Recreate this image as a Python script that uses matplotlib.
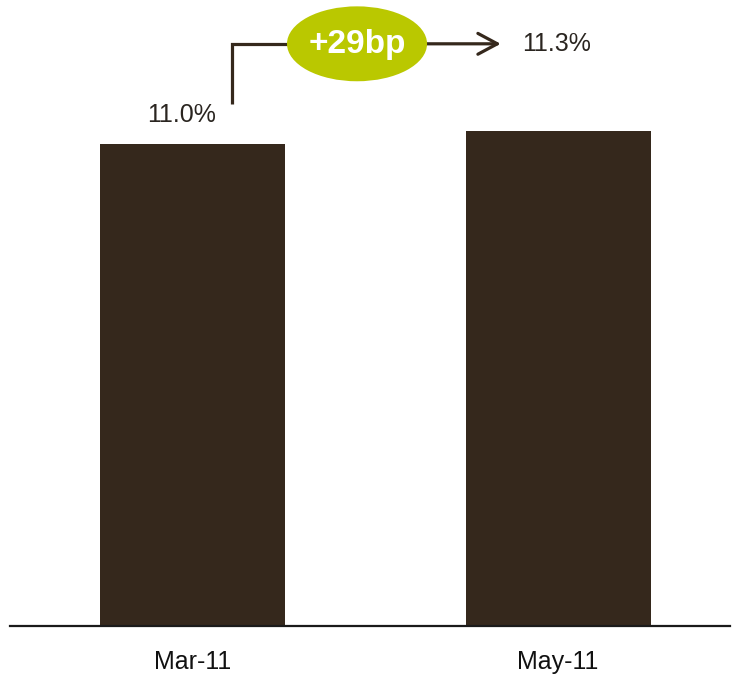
import matplotlib
matplotlib.use("Agg")
import matplotlib.pyplot as plt
from matplotlib.patches import Ellipse

categories = ["Mar-11", "May-11"]
values = [11.0, 11.29]
value_labels = ["11.0%", "11.3%"]
change_label = "+29bp"

bar_color = "#35281C"
accent = "#BAC800"

plt.rcParams['font.family'] = ['Liberation Sans', 'DejaVu Sans']

fig = plt.figure(figsize=(7.33, 6.78), dpi=100)
ax = fig.add_axes([10/733, 52/678, 720/733, 626/678])

x = list(range(len(categories)))
ax.bar(x, values, width=0.506, color=bar_color, zorder=2)

ax.set_xlim(-0.499, 1.47)
ax.set_ylim(0, 14.29)

for s in ["top", "right", "left"]:
    ax.spines[s].set_visible(False)
ax.spines["bottom"].set_linewidth(1.6)
ax.spines["bottom"].set_color("#1a1a1a")
ax.set_yticks([])
ax.set_xticks(x)
ax.set_xticklabels(categories, fontsize=18, color="#111111")
ax.tick_params(axis="x", length=0, pad=17)

# value labels
ax.text(x[0] - 0.031, values[0] + 0.67, value_labels[0], ha="center", va="center",
        fontsize=18, color="#2a2520")
ax.text(x[0] + 0.901, values[1] + 1.99, value_labels[1], ha="left", va="center",
        fontsize=18, color="#2a2520")

# connector arrow
y_low = values[0] + 0.92
y_high = values[1] + 2.0
ax.plot([x[0] + 0.108, x[0] + 0.108, x[0] + 0.62], [y_low, y_high, y_high],
        color=bar_color, lw=2.3, solid_capstyle="butt", solid_joinstyle="miter", zorder=3)
ax.annotate("", xy=(x[0] + 0.843, y_high), xytext=(x[0] + 0.6, y_high),
            arrowprops=dict(arrowstyle="->,head_length=1.4,head_width=0.75",
                            color=bar_color, lw=2.3, shrinkA=0, shrinkB=0), zorder=3)

ell = Ellipse((x[0] + 0.45, y_high), width=0.383, height=1.71,
              facecolor=accent, edgecolor="none", zorder=4)
ax.add_patch(ell)
ax.text(x[0] + 0.45, y_high - 0.02, change_label, ha="center", va="center",
        fontsize=24, fontweight="bold", color="white", zorder=5)

fig.savefig("out.png", dpi=100)
